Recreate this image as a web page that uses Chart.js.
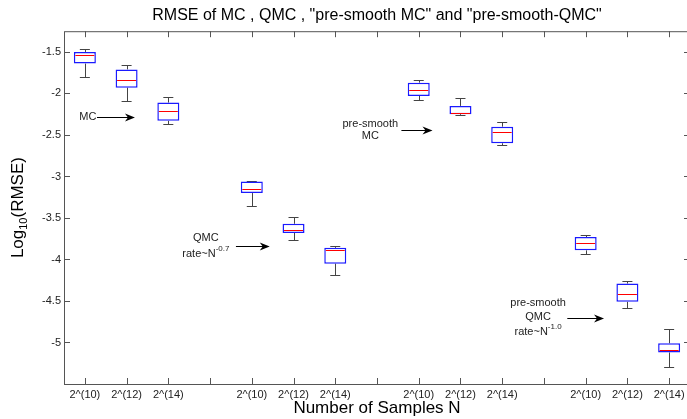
<!DOCTYPE html>
<html>
<head>
<meta charset="utf-8">
<script src="https://cdn.jsdelivr.net/npm/chart.js@4"></script>
<style>
  html, body { margin: 0; padding: 0; background: #fff; overflow: hidden; }
  #wrap { width: 700px; height: 419px; }
</style>
</head>
<body>
<div id="wrap"><canvas id="myChart"></canvas></div>
<script>
// box positions on the x axis (groups of three with a gap)
const positions = [1, 2, 3, 5, 6, 7, 9, 10, 11, 13, 14, 15]
const xTickValues = [1, 2, 3, 4, 5, 6, 7, 8, 9, 10, 11, 12, 13, 14, 15]
const xTickLabels = ['2^(10)', '2^(12)', '2^(14)', '', '2^(10)', '2^(12)', '2^(14)', '',
  '2^(10)', '2^(12)', '2^(14)', '', '2^(10)', '2^(12)', '2^(14)']
const yTickValues = [-5, -4.5, -4, -3.5, -3, -2.5, -2, -1.5]

// box plot stats, log10(RMSE)
const upperWhisker  = [-1.46, -1.66, -2.04, -3.05, -3.49, -3.84, -1.84, -2.06, -2.34, -3.71, -4.26, -4.84]
const upperQuartile = [-1.50, -1.71, -2.11, -3.06, -3.57, -3.86, -1.87, -2.15, -2.40, -3.73, -4.29, -5.01]
const medians       = [-1.54, -1.84, -2.21, -3.15, -3.64, -3.89, -1.96, -2.24, -2.46, -3.80, -4.42, -5.09]
const lowerQuartile = [-1.64, -1.93, -2.33, -3.20, -3.68, -4.05, -2.03, -2.25, -2.60, -3.89, -4.51, -5.12]
const lowerWhisker  = [-1.80, -2.09, -2.37, -3.35, -3.76, -4.19, -2.08, -2.26, -2.62, -3.93, -4.58, -5.29]

// text + arrow annotations, in data coordinates
const notes = [
  { x: 1.07, lines: [{ text: 'MC', y: -2.28 }], arrow: { from: 1.29, to: 2.2, y: -2.28 } },
  { x: 3.9, lines: [{ text: 'QMC', y: -3.737 }, { text: 'rate~N', sup: '-0.7', y: -3.93 }],
    arrow: { from: 4.62, to: 5.43, y: -3.833 } },
  { x: 7.84, lines: [{ text: 'pre-smooth', y: -2.366 }, { text: 'MC', y: -2.516 }],
    arrow: { from: 8.585, to: 9.33, y: -2.438 } },
  { x: 11.86, lines: [{ text: 'pre-smooth', y: -4.519 }, { text: 'QMC', y: -4.687 }, { text: 'rate~N', sup: '-1.0', y: -4.868 }],
    arrow: { from: 12.56, to: 13.44, y: -4.70 } }
]

const FONT = "'Liberation Sans', Arial, sans-serif"
const CAP = 0.12

const boxPlugin = {
  id: 'boxExtras',
  beforeDatasetsDraw(chart) {
    const { ctx, scales: { x, y } } = chart
    ctx.save()
    ctx.strokeStyle = '#444'
    ctx.lineWidth = 1
    positions.forEach((p, i) => {
      const px = Math.round(x.getPixelForValue(p)) + 0.5
      const l = x.getPixelForValue(p - CAP), r = x.getPixelForValue(p + CAP)
      const yu = Math.round(y.getPixelForValue(upperWhisker[i])) + 0.5
      const yl = Math.round(y.getPixelForValue(lowerWhisker[i])) + 0.5
      const yq3 = y.getPixelForValue(upperQuartile[i])
      const yq1 = y.getPixelForValue(lowerQuartile[i])
      ctx.beginPath()
      ctx.moveTo(px, yu); ctx.lineTo(px, yq3)
      ctx.moveTo(px, yq1); ctx.lineTo(px, yl)
      ctx.moveTo(l, yu); ctx.lineTo(r, yu)
      ctx.moveTo(l, yl); ctx.lineTo(r, yl)
      ctx.stroke()
    })
    ctx.restore()
  },
  afterDatasetsDraw(chart) {
    const { ctx, chartArea: a, scales: { x, y } } = chart
    const bars = chart.getDatasetMeta(0).data
    ctx.save()
    // medians
    ctx.strokeStyle = '#ff0000'
    ctx.lineWidth = 1
    positions.forEach((p, i) => {
      const bar = bars[i]
      const half = bar.width / 2
      const ym = Math.round(y.getPixelForValue(medians[i])) + 0.5
      ctx.beginPath()
      ctx.moveTo(bar.x - half + 1.5, ym); ctx.lineTo(bar.x + half - 1.5, ym)
      ctx.stroke()
    })
    // frame and inward ticks
    ctx.strokeStyle = '#555'
    ctx.strokeRect(a.left + 0.5, a.top + 0.5, a.right - a.left, a.bottom - a.top)
    ctx.beginPath()
    xTickValues.forEach(v => {
      const px = Math.round(x.getPixelForValue(v)) + 0.5
      ctx.moveTo(px, a.bottom); ctx.lineTo(px, a.bottom - 6)
      ctx.moveTo(px, a.top); ctx.lineTo(px, a.top + 6)
    })
    yTickValues.forEach(v => {
      const py = Math.round(y.getPixelForValue(v)) + 0.5
      ctx.moveTo(a.left, py); ctx.lineTo(a.left + 6, py)
      ctx.moveTo(a.right, py); ctx.lineTo(a.right - 6, py)
    })
    ctx.stroke()

    // annotations
    ctx.textBaseline = 'middle'
    notes.forEach(n => {
      const cx = x.getPixelForValue(n.x)
      ctx.fillStyle = '#222'
      n.lines.forEach(line => {
        const ly = y.getPixelForValue(line.y)
        ctx.font = '11px ' + FONT
        const w1 = ctx.measureText(line.text).width
        let w2 = 0
        if (line.sup) { ctx.font = '8px ' + FONT; w2 = ctx.measureText(line.sup).width }
        const sx = cx - (w1 + w2) / 2
        ctx.font = '11px ' + FONT
        ctx.textAlign = 'left'
        ctx.fillText(line.text, sx, ly)
        if (line.sup) {
          ctx.font = '8px ' + FONT
          ctx.fillText(line.sup, sx + w1, ly - 5)
        }
      })
      const x1 = x.getPixelForValue(n.arrow.from), x2 = x.getPixelForValue(n.arrow.to)
      const ay = Math.round(y.getPixelForValue(n.arrow.y)) + 0.5
      ctx.strokeStyle = '#000'
      ctx.fillStyle = '#000'
      ctx.beginPath()
      ctx.moveTo(x1, ay); ctx.lineTo(x2 - 4, ay)
      ctx.stroke()
      ctx.beginPath()
      ctx.moveTo(x2, ay)
      ctx.lineTo(x2 - 10, ay - 4)
      ctx.lineTo(x2 - 7, ay)
      ctx.lineTo(x2 - 10, ay + 4)
      ctx.closePath()
      ctx.fill()
    })

    // y axis title with subscript
    const cy = (a.top + a.bottom) / 2
    ctx.translate(18, cy)
    ctx.rotate(-Math.PI / 2)
    ctx.fillStyle = '#000'
    ctx.textAlign = 'left'
    ctx.font = '17px ' + FONT
    const wLog = ctx.measureText('Log').width
    const wRest = ctx.measureText('(RMSE)').width
    ctx.font = '11px ' + FONT
    const wSub = ctx.measureText('10').width
    const sx = -(wLog + wSub + wRest) / 2
    ctx.font = '17px ' + FONT
    ctx.fillText('Log', sx, 0)
    ctx.font = '11px ' + FONT
    ctx.fillText('10', sx + wLog, 6)
    ctx.font = '17px ' + FONT
    ctx.fillText('(RMSE)', sx + wLog + wSub, 0)
    ctx.restore()
  }
}

const ctx = document.getElementById('myChart').getContext('2d')
new Chart(ctx, {
  type: 'bar',
  data: {
    datasets: [{
      label: 'RMSE',
      data: positions.map((p, i) => ({ x: p, y: [lowerQuartile[i], upperQuartile[i]] })),
      backgroundColor: '#ffffff',
      borderColor: '#1a1aff',
      borderWidth: 1.5,
      borderSkipped: false,
      inflateAmount: 0,
      barThickness: 22
    }]
  },
  options: {
    responsive: true,
    maintainAspectRatio: false,
    animation: false,
    layout: { padding: { right: 10 } },
    scales: {
      x: {
        type: 'linear',
        min: 0.5,
        max: 15.5,
        offset: false,
        grid: { display: false, drawTicks: false },
        border: { display: false },
        afterBuildTicks: s => { s.ticks = xTickValues.map(v => ({ value: v })) },
        afterFit: s => { s.height = 35 },
        ticks: {
          autoSkip: false,
          maxRotation: 0,
          padding: 4,
          color: '#222',
          font: { family: FONT, size: 11 },
          callback: v => xTickLabels[xTickValues.indexOf(v)]
        },
        title: {
          display: true,
          text: 'Number of Samples N',
          color: '#000',
          padding: { top: 0, bottom: 0 },
          font: { family: FONT, size: 17 }
        }
      },
      y: {
        min: -5.5,
        max: -1.25,
        grid: { display: false, drawTicks: false },
        border: { display: false },
        afterBuildTicks: s => { s.ticks = yTickValues.map(v => ({ value: v })) },
        afterFit: s => { s.width = 64 },
        ticks: {
          padding: 3,
          color: '#222',
          font: { family: FONT, size: 11 },
          callback: v => String(v)
        }
      }
    },
    plugins: {
      legend: { display: false },
      tooltip: { enabled: false },
      title: {
        display: true,
        fullSize: false,
        text: 'RMSE of MC , QMC , "pre-smooth MC" and "pre-smooth-QMC"',
        color: '#000',
        font: { family: FONT, size: 16, weight: 'normal' },
        padding: { top: 6, bottom: 6 }
      }
    }
  },
  plugins: [boxPlugin]
})
</script>
</body>
</html>
